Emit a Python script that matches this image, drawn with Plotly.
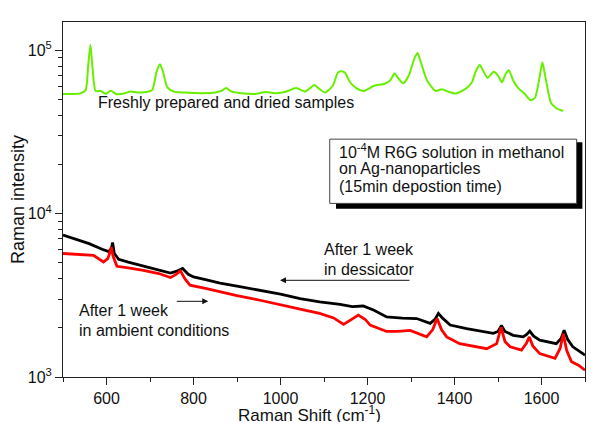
import plotly.graph_objects as go

# ---- data ----
green_x = [500, 520, 540, 552, 558, 563, 568, 575, 587, 598, 610, 622, 640, 656, 672, 690,
           705, 715, 723, 730, 740, 755, 780, 820, 850, 865, 875, 888, 910, 940, 967, 990,
           1010, 1036, 1056, 1067, 1078, 1090, 1103, 1120, 1132, 1139, 1148, 1160, 1175,
           1191, 1215, 1238, 1252, 1262, 1272, 1282, 1295, 1308, 1315, 1322, 1337, 1357,
           1371, 1385, 1404, 1428, 1440, 1450, 1458, 1467, 1476, 1490, 1500, 1509, 1518,
           1525, 1535, 1547, 1560, 1575, 1585, 1595, 1602, 1609, 1622, 1635, 1650]
green_y = [54000, 54000, 54500, 57000, 81000, 107800, 77000, 56300, 56300, 54000, 56600,
           54000, 54400, 55900, 55100, 55500, 57000, 73800, 82100, 73800, 59200, 55800,
           55100, 54600, 55100, 56600, 58700, 55800, 54600, 54000, 55500, 54600, 55500,
           58700, 55800, 58400, 61300, 57800, 55100, 60600, 73000, 74500, 73000, 63700,
           58400, 56300, 60600, 62200, 65300, 72000, 66700, 62800, 70000, 89500, 96200,
           85400, 65300, 56300, 57800, 55800, 54300, 58700, 63700, 75500, 81300, 73800,
           67600, 73800, 70000, 63700, 72000, 75500, 65300, 58400, 54600, 49400, 51200,
           67000, 84500, 68500, 47500, 44000, 42500]

black_x = [500, 530, 560, 590, 605, 611, 614, 618, 628, 650, 677, 710, 747, 762, 775, 788,
           800, 830, 861, 900, 953, 1000, 1045, 1090, 1137, 1165, 1190, 1215, 1244, 1280,
           1313, 1344, 1355, 1363, 1372, 1390, 1428, 1460, 1489, 1500, 1508, 1516, 1535,
           1558, 1566, 1573, 1582, 1596, 1620, 1634, 1645, 1652, 1660, 1672, 1685, 1700]
black_y = [7400, 7000, 6550, 6050, 5850, 6100, 6650, 5700, 5250, 5050, 4830, 4600, 4330,
           4450, 4620, 4250, 4100, 3930, 3760, 3600, 3400, 3220, 3020, 2880, 2780, 2700,
           2720, 2560, 2330, 2290, 2280, 2130, 2250, 2450, 2300, 2080, 1980, 1920, 1850,
           1900, 2070, 1900, 1800, 1760, 1820, 1910, 1780, 1680, 1640, 1600, 1720, 1930,
           1700, 1530, 1450, 1360]

red_x = [500, 540, 570, 593, 603, 608, 611, 615, 624, 650, 685, 720, 747, 760, 770, 780,
         792, 830, 861, 900, 953, 1000, 1045, 1090, 1122, 1145, 1165, 1179, 1195, 1206,
         1244, 1270, 1298, 1320, 1336, 1350, 1360, 1370, 1382, 1412, 1440, 1474, 1497,
         1507, 1516, 1528, 1554, 1565, 1572, 1580, 1596, 1631, 1643, 1650, 1658, 1669,
         1685, 1700]
red_y = [5700, 5600, 5560, 5060, 5300, 5800, 6250, 5500, 4760, 4650, 4500, 4300, 4060,
         4250, 4460, 4000, 3650, 3480, 3320, 3150, 2950, 2780, 2600, 2450, 2300, 2100,
         2250, 2390, 2250, 2080, 1900, 1900, 1930, 1820, 1760, 1950, 2280, 1950, 1760,
         1600, 1550, 1490, 1600, 2010, 1650, 1530, 1460, 1600, 1760, 1550, 1390, 1300,
         1500, 1840, 1450, 1240, 1180, 1100]

x_tickvals = [600, 800, 1000, 1200, 1400, 1600]
y_tickvals = [1000, 10000, 100000]
y_ticktext = ["10<sup>3</sup>", "10<sup>4</sup>", "10<sup>5</sup>"]
y_minorvals = [m * 10 ** e for e in (3, 4) for m in range(2, 10)] + [200000]

FONT = "Liberation Sans, Arial, sans-serif"

fig = go.Figure()
fig.add_trace(go.Scatter(x=green_x, y=green_y, mode="lines",
                         line=dict(color="#66f000", width=2, shape="spline", smoothing=0.6),
                         showlegend=False))
fig.add_trace(go.Scatter(x=black_x, y=black_y, mode="lines",
                         line=dict(color="#000000", width=2.8), showlegend=False))
fig.add_trace(go.Scatter(x=red_x, y=red_y, mode="lines",
                         line=dict(color="#ff0000", width=2.8), showlegend=False))

# page body has an 8px margin, so the figure is 592x414 placed at (8, 8)
fig.update_layout(
    width=592, height=414,
    margin=dict(l=55, r=15, t=14, b=45),
    plot_bgcolor="white", paper_bgcolor="white",
    font=dict(family=FONT, size=16, color="#111"),
    showlegend=False,
)
fig.update_xaxes(
    range=[500, 1700], tickvals=x_tickvals, ticks="outside", ticklen=7, tickwidth=1,
    tickcolor="#222", showline=True, linecolor="#222", linewidth=1, mirror=True,
    showgrid=False, zeroline=False, tickfont=dict(size=16),
    minor=dict(tickvals=[500, 700, 900, 1100, 1300, 1500, 1700], ticks="outside",
               ticklen=4, tickcolor="#222"),
)
fig.update_yaxes(
    type="log", range=[3, 5.173], tickvals=y_tickvals, ticktext=y_ticktext,
    ticks="outside", ticklen=7, tickwidth=1, tickcolor="#222",
    showline=True, linecolor="#222", linewidth=1, mirror=True,
    showgrid=False, zeroline=False, tickfont=dict(size=16),
    minor=dict(tickvals=y_minorvals, ticks="outside", ticklen=4, tickcolor="#222"),
)

# axis titles
fig.add_annotation(text="Raman Shift (cm<sup>-1</sup>)", xref="paper", yref="paper",
                   x=0.473, y=-0.071, xanchor="center", yanchor="top",
                   showarrow=False, font=dict(size=17), borderpad=0)
fig.add_annotation(text="Raman intensity", xref="paper", yref="paper",
                   x=-0.087, y=0.5, textangle=-90, xanchor="center", yanchor="middle",
                   showarrow=False, font=dict(size=18), borderpad=0)

# info box with shadow
fig.add_shape(type="rect", xref="paper", yref="paper", x0=0.523, x1=0.995,
              y0=0.474, y1=0.661, fillcolor="black", line=dict(width=0), layer="above")
fig.add_shape(type="rect", xref="paper", yref="paper", x0=0.511, x1=0.984,
              y0=0.489, y1=0.670, fillcolor="white", line=dict(color="#444", width=1),
              layer="above")
box_lines = ["10<sup>-4</sup>M R6G solution in methanol", "on Ag-nanoparticles",
             "(15min depostion time)"]
for i, t in enumerate(box_lines):
    fig.add_annotation(text=t, xref="paper", yref="paper", x=0.524, y=0.636 - i * 0.050,
                       xanchor="left", yanchor="middle", showarrow=False,
                       font=dict(size=16))

# labels
def label(t, x, y):
    fig.add_annotation(text=t, xref="paper", yref="paper", x=x, y=y, xanchor="left",
                       yanchor="middle", showarrow=False, font=dict(size=16))

label("Freshly prepared and dried samples", 0.064, 0.774)
label("After 1 week", 0.497, 0.360)
label("in dessicator", 0.497, 0.303)
label("After 1 week", 0.026, 0.188)
label("in ambient conditions", 0.026, 0.131)

# arrows
fig.add_annotation(text="", xref="paper", yref="paper", x=0.4157, y=0.2724,
                   ax=131, ay=0, showarrow=True, arrowhead=2, arrowsize=1.2,
                   arrowwidth=1, arrowcolor="#111")
fig.add_annotation(text="", xref="paper", yref="paper", x=0.2783, y=0.2132,
                   ax=-33, ay=0, showarrow=True, arrowhead=2, arrowsize=1.2,
                   arrowwidth=1, arrowcolor="#111")

fig.write_html("out.html")
